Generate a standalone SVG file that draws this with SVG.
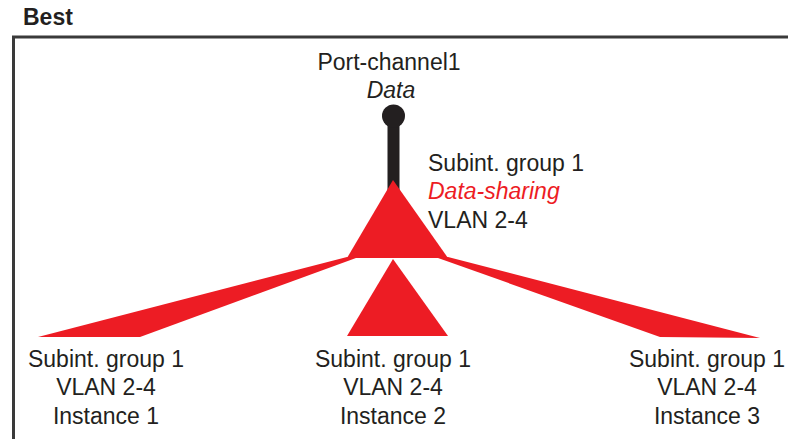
<svg xmlns="http://www.w3.org/2000/svg" width="788" height="439" viewBox="0 0 788 439">
<style>
  text { font-family: "Liberation Sans", Arial, sans-serif; font-size: 23px; fill: #231f20; }
  .c { text-anchor: middle; }
  .it { font-style: italic; }
  .red { fill: #ed1c24; }
  .shape { fill: #ed1c24; }
</style>
<rect width="788" height="439" fill="#ffffff"/>
<g id="frame">
  <text x="23" y="25" style="font-weight:bold">Best</text>
  <path d="M13.5,439 V37 H788" fill="none" stroke="#3a3a3a" stroke-width="3"/>
</g>
<g id="connectors">
  <polygon class="shape" points="347,257 38,337 140,337 356,258"/>
  <polygon class="shape" points="448,257 760,338 660,337 438,258"/>
</g>
<g id="port-channel">
  <rect x="387.5" y="116" width="12" height="80" fill="#231f20"/>
  <circle cx="393.5" cy="116" r="11.5" fill="#231f20"/>
  <text class="c" x="389" y="70">Port-channel1</text>
  <text class="c it" x="391" y="98">Data</text>
</g>
<g id="shared-group">
  <polygon class="shape" points="393,180 347,258 448,258"/>
  <text x="428" y="171">Subint. group 1</text>
  <text class="it red" x="428" y="199">Data-sharing</text>
  <text x="428" y="228">VLAN 2-4</text>
</g>
<g id="instance1">
  <text class="c" x="106" y="367">Subint. group 1</text>
  <text class="c" x="106" y="395">VLAN 2-4</text>
  <text class="c" x="106" y="424">Instance 1</text>
</g>
<g id="instance2">
  <polygon class="shape" points="393,259 347,336 448,336"/>
  <text class="c" x="393" y="367">Subint. group 1</text>
  <text class="c" x="393" y="395">VLAN 2-4</text>
  <text class="c" x="393" y="424">Instance 2</text>
</g>
<g id="instance3">
  <text class="c" x="707" y="367">Subint. group 1</text>
  <text class="c" x="707" y="395">VLAN 2-4</text>
  <text class="c" x="707" y="424">Instance 3</text>
</g>
</svg>
